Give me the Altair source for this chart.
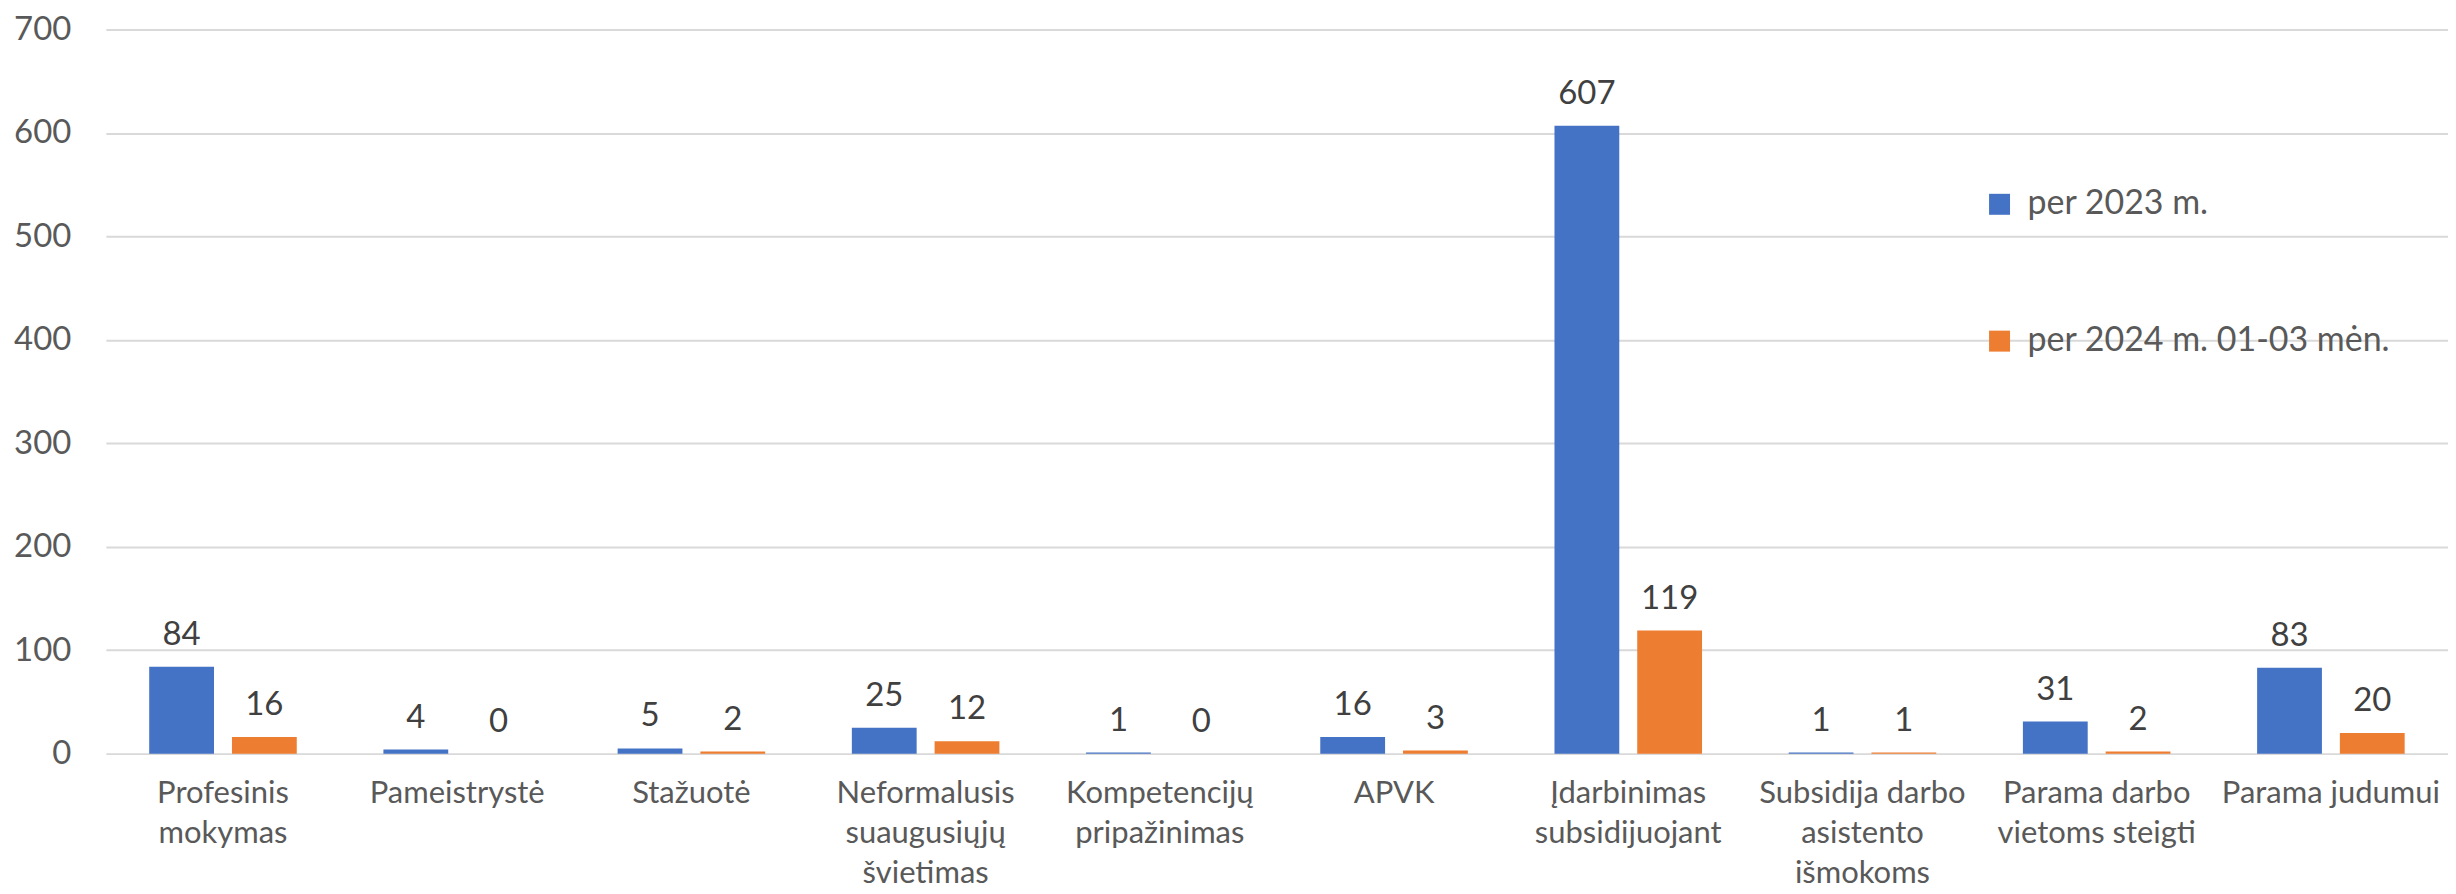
import altair as alt
import pandas as pd

categories = [
    "Profesinis|mokymas",
    "Pameistrystė",
    "Stažuotė",
    "Neformalusis|suaugusiųjų|švietimas",
    "Kompetencijų|pripažinimas",
    "APVK",
    "Įdarbinimas|subsidijuojant",
    "Subsidija darbo|asistento|išmokoms",
    "Parama darbo|vietoms steigti",
    "Parama judumui",
]
series = ["per 2023 m.", "per 2024 m. 01-03 mėn."]
values_2023 = [84, 4, 5, 25, 1, 16, 607, 1, 31, 83]
values_2024 = [16, 0, 2, 12, 0, 3, 119, 1, 2, 20]
colors = ["#4472C4", "#ED7D31"]
y_ticks = [0, 100, 200, 300, 400, 500, 600, 700]

rows = []
for c, v1, v2 in zip(categories, values_2023, values_2024):
    rows.append({"cat": c, "series": series[0], "value": v1})
    rows.append({"cat": c, "series": series[1], "value": v2})
df = pd.DataFrame(rows)

FONT = "Lato"

x_enc = alt.X(
    "cat:N",
    sort=categories,
    title=None,
    scale=alt.Scale(paddingInner=0.37, paddingOuter=0.185),
    axis=alt.Axis(
        labelAngle=0,
        labelExpr="split(datum.label, '|')",
        domain=False,
        ticks=False,
        labelPadding=25,
        labelFontSize=31,
        labelLineHeight=40,
        labelColor="#595959",
        labelFont=FONT,
        labelLimit=0,
        grid=False,
    ),
)
xoff = alt.XOffset("series:N", sort=series, scale=alt.Scale(paddingInner=0.217, paddingOuter=0))
y_enc = alt.Y(
    "value:Q",
    title=None,
    scale=alt.Scale(domain=[0, 700], nice=False),
    axis=alt.Axis(
        values=y_ticks,
        domain=False,
        ticks=False,
        labelPadding=35,
        labelFontSize=33,
        labelColor="#595959",
        labelFont=FONT,
        gridColor="#d9d9d9",
        gridWidth=2,
    ),
)

bars = alt.Chart(df).mark_bar().encode(
    x=x_enc,
    xOffset=xoff,
    y=y_enc,
    color=alt.Color(
        "series:N",
        sort=series,
        scale=alt.Scale(domain=series, range=colors),
        legend=alt.Legend(
            title=None,
            orient="none",
            legendX=1879,
            legendY=158,
            symbolType="square",
            symbolSize=441,
            symbolStrokeWidth=0,
            labelFontSize=34,
            labelFont=FONT,
            labelColor="#595959",
            labelOffset=11,
            labelLimit=0,
            rowPadding=103,
        ),
    ),
)

labels = alt.Chart(df).mark_text(
    baseline="alphabetic", dy=-22, fontSize=33, font=FONT, color="#404040"
).encode(
    x=alt.X("cat:N", sort=categories),
    xOffset=alt.XOffset("series:N", sort=series),
    y=alt.Y("value:Q"),
    text=alt.Text("value:Q"),
)

chart = (
    alt.layer(bars, labels)
    .properties(
        width=2345,
        height=725,
        autosize=alt.AutoSizeParams(type="none"),
        padding={"left": 98, "top": 21, "right": 0, "bottom": 138},
    )
    .configure_view(strokeWidth=0)
)

chart.save("out.html", embed_options={"renderer": "svg", "actions": False})
